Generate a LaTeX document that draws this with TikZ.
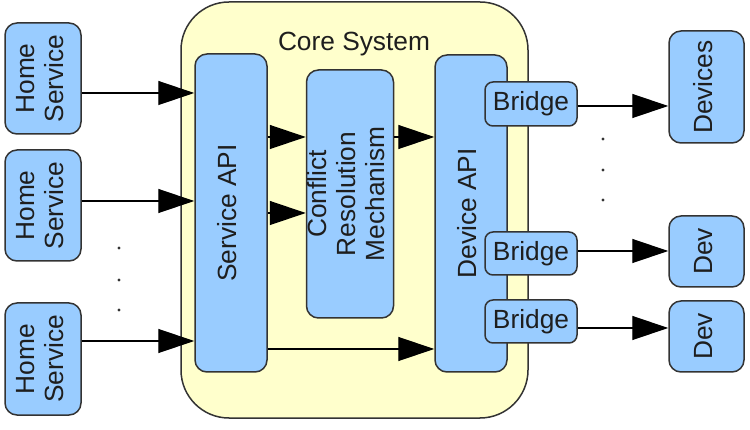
\documentclass[tikz,border=0pt]{standalone}
\usepackage{fontspec}
\setmainfont{Liberation Sans}
\usetikzlibrary{arrows.meta}
\definecolor{boxblue}{HTML}{99CCFF}
\definecolor{coreyellow}{HTML}{FFFFCC}
\definecolor{edgegray}{HTML}{333333}
\definecolor{inkgray}{HTML}{1E1E1E}
\newcommand{\vlabel}[1]{\rotatebox{90}{\begin{tabular}{@{}c@{}}#1\end{tabular}}}
\tikzset{
  box/.style={draw=edgegray, fill=boxblue, line width=1.5pt, rounded corners=12pt, inner sep=0pt, text=inkgray},
  bridgebox/.style={box, rounded corners=8pt, minimum width=92pt, minimum height=44pt},
  flow/.style={-{Triangle[length=36pt,width=24pt]}, line width=1.3pt, black},
}
\begin{document}
\begin{tikzpicture}[x=1pt,y=-1pt,font=\fontsize{26.3}{29}\selectfont]
\useasboundingbox (0,0) rectangle (750,430);
% core system
\node[box, fill=coreyellow, rounded corners=48pt, minimum width=347pt, minimum height=416pt] (core) at (354.5,210) {};
\node[text=inkgray] (title) at (354,44) {Core System};
\node[box, minimum width=72pt, minimum height=318pt] (sapi) at (231,213) {\vlabel{Service API}};
\node[box, minimum width=86pt, minimum height=248pt] (crm) at (350,194) {\vlabel{Conflict\\Resolution\\Mechanism}};
\node[box, minimum width=72pt, minimum height=317pt] (dapi) at (471,213.5) {\vlabel{Device API}};
\node[bridgebox] (br1) at (531,104) {Bridge};
\node[bridgebox, minimum height=43pt] (br2) at (531,253.5) {Bridge};
\node[bridgebox, minimum height=43pt] (br3) at (531,321.5) {Bridge};
% home services
\node[box, minimum width=76pt, minimum height=111pt] (hs1) at (43,78.5) {\vlabel{Home\\Service}};
\node[box, minimum width=76pt, minimum height=111pt] (hs2) at (43,205.5) {\vlabel{Home\\Service}};
\node[box, minimum width=76pt, minimum height=112pt] (hs3) at (43,359) {\vlabel{Home\\Service}};
% devices
\node[box, minimum width=75pt, minimum height=112pt] (dev1) at (706.5,87) {\vlabel{Devices}};
\node[box, minimum width=75pt, minimum height=71pt] (dev2) at (706.5,251.5) {\vlabel{Dev}};
\node[box, minimum width=75pt, minimum height=71pt] (dev3) at (706.5,336.5) {\vlabel{Dev}};
% arrows
\draw[flow] (hs1.east |- 0,93) -- (sapi.west |- 0,93);
\draw[flow] (hs2.east |- 0,201) -- (sapi.west |- 0,201);
\draw[flow] (hs3.east |- 0,341) -- (sapi.west |- 0,341);
\draw[flow] (sapi.east |- 0,137) -- (crm.west |- 0,137);
\draw[flow] (sapi.east |- 0,213) -- (crm.west |- 0,213);
\draw[flow] (crm.east |- 0,137) -- (dapi.west |- 0,137);
\draw[flow] (sapi.east |- 0,349) -- (dapi.west |- 0,349);
\draw[flow] (br1.east |- 0,106) -- (dev1.west |- 0,106);
\draw[flow] (br2.east |- 0,251) -- (dev2.west |- 0,251);
\draw[flow] (br3.east |- 0,328) -- (dev3.west |- 0,328);
% dots
\foreach \y in {248,280,310}{
\fill[edgegray] (119,\y) circle (1.6pt);
}
\foreach \y in {139,170,200}{
\fill[edgegray] (603,\y) circle (1.6pt);
}
\end{tikzpicture}
\end{document}
